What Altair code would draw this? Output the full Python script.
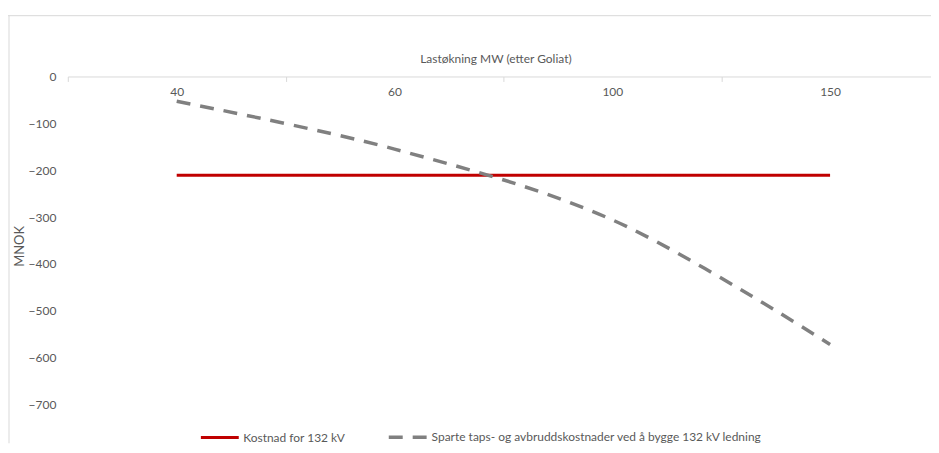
import altair as alt
import pandas as pd

# ---- data ----
categories = ["40", "60", "100", "150"]
kostnad_132kv = [-211, -211, -211, -211]
sparte_kostnader = [-53, -155, -306, -572]
series_names = [
    "Kostnad for 132 kV",
    "Sparte taps- og avbruddskostnader ved å bygge 132 kV ledning",
]
y_ticks = [0, -100, -200, -300, -400, -500, -600, -700]

rows = []
for c, v in zip(categories, kostnad_132kv):
    rows.append({"MW": c, "MNOK": v, "serie": series_names[0]})
for c, v in zip(categories, sparte_kostnader):
    rows.append({"MW": c, "MNOK": v, "serie": series_names[1]})
df = pd.DataFrame(rows)

W, H = 866, 329
FONT = "Lato"
TXT = "#595959"
GRID = "#d9d9d9"

legend_cfg = dict(
    orient="none",
    legendX=132,
    legendY=341,
    direction="horizontal",
    title=None,
    symbolType="stroke",
    symbolSize=1444,
    symbolStrokeWidth=3,
    labelFont=FONT,
    labelFontSize=12,
    labelColor=TXT,
    labelOffset=3,
    labelLimit=0,
    columnPadding=36,
    padding=0,
)

lines = (
    alt.Chart(df)
    .mark_line(interpolate="catmull-rom", strokeCap="butt")
    .encode(
        x=alt.X(
            "MW:N",
            sort=categories,
            scale=alt.Scale(type="band", range=[0, 874], paddingInner=0, paddingOuter=0),
            axis=alt.Axis(
                orient="bottom",
                offset=-H,
                title="Lastøkning MW (etter Goliat)",
                titleX=429,
                titleY=-11,
                titleAlign="center",
                titleBaseline="bottom",
                titleFont=FONT,
                titleFontSize=12,
                titleFontWeight="normal",
                titleColor=TXT,
                labelAngle=0,
                labelFont=FONT,
                labelFontSize=12,
                labelColor=TXT,
                labelPadding=5,
                tickBand="extent",
                tickSize=5,
                tickColor=GRID,
                domainColor=GRID,
                grid=False,
            ),
        ),
        y=alt.Y(
            "MNOK:Q",
            scale=alt.Scale(domain=[-700, 0], nice=False),
            axis=alt.Axis(
                values=y_ticks,
                grid=False,
                domain=False,
                ticks=False,
                labelFont=FONT,
                labelFontSize=12,
                labelColor=TXT,
                labelPadding=12,
                title="MNOK",
                titleFont=FONT,
                titleFontSize=13,
                titleFontWeight="normal",
                titleColor=TXT,
                titleX=-41,
                titleY=170,
                titleAngle=-90,
            ),
        ),
        color=alt.Color(
            "serie:N",
            sort=series_names,
            scale=alt.Scale(domain=series_names, range=["#C00000", "#808080"]),
            legend=alt.Legend(**legend_cfg),
        ),
        strokeDash=alt.StrokeDash(
            "serie:N",
            sort=series_names,
            scale=alt.Scale(domain=series_names, range=[[1, 0], [14, 10]]),
            legend=alt.Legend(**legend_cfg),
        ),
        strokeWidth=alt.StrokeWidth(
            "serie:N",
            sort=series_names,
            scale=alt.Scale(domain=series_names, range=[3, 3.5]),
            legend=None,
        ),
    )
)

frame_data = alt.Data(values=[{"k": 1}])
frame_top = alt.Chart(frame_data).mark_rule(color=GRID, strokeWidth=1).encode(
    x=alt.value(-60), x2=alt.value(W + 10), y=alt.value(-61)
)
frame_left = alt.Chart(frame_data).mark_rule(color=GRID, strokeWidth=1).encode(
    x=alt.value(-59), y=alt.value(-61), y2=alt.value(H + 39)
)

chart = (
    alt.layer(frame_top, frame_left, lines)
    .properties(
        width=W,
        height=H,
        autosize=alt.AutoSizeParams(type="none"),
        padding={"left": 60, "top": 68, "right": 0, "bottom": 39},
        background="white",
    )
    .configure_view(stroke=None)
)

chart.save("out.html", embed_options={"renderer": "svg", "actions": False})
